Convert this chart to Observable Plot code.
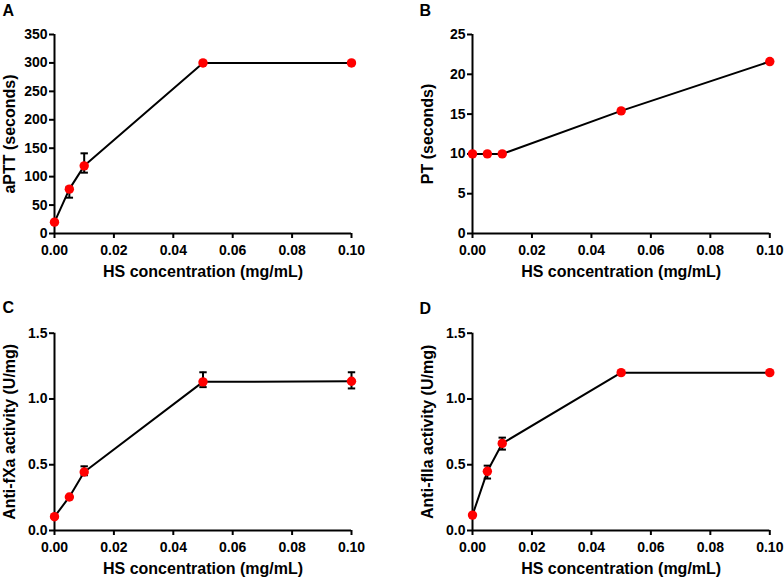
<!DOCTYPE html>
<html>
<head>
<meta charset="utf-8">
<script src="https://cdn.jsdelivr.net/npm/d3@7"></script>
<script src="https://cdn.jsdelivr.net/npm/@observablehq/plot@0.6"></script>
<style>
  html, body { margin: 0; padding: 0; background: #fff; }
  #wrap { position: relative; width: 784px; height: 579px; background: #fff; overflow: hidden; }
  .cell { position: absolute; }
</style>
</head>
<body>
<div id="wrap"></div>
<script>
// ---- data ----
const conc = [0, 0.005, 0.01, 0.05, 0.1];
const xTicks = [0, 0.02, 0.04, 0.06, 0.08, 0.1];

const apttMean = [20, 78, 119, 300, 300];
const apttLow  = [20, 63, 107, 300, 300];
const apttHigh = [20, 82, 141, 300, 300];
const apttTicks = [0, 50, 100, 150, 200, 250, 300, 350];

const ptMean = [10, 10, 10, 15.4, 21.6];
const ptTicks = [0, 5, 10, 15, 20, 25];

const fxaMean = [0.105, 0.255, 0.445, 1.13, 1.135];
const fxaLow  = [0.105, 0.255, 0.42, 1.09, 1.08];
const fxaHigh = [0.105, 0.255, 0.488, 1.203, 1.203];

const fiiaMean = [0.117, 0.45, 0.662, 1.2, 1.2];
const fiiaLow  = [0.117, 0.395, 0.615, 1.2, 1.2];
const fiiaHigh = [0.117, 0.493, 0.706, 1.2, 1.2];
const activityTicks = [0, 0.5, 1.0, 1.5];

const panelLetters = ["A", "B", "C", "D"];
const yTitles = ["aPTT (seconds)", "PT (seconds)", "Anti-fXa activity (U/mg)", "Anti-fIIa activity (U/mg)"];
const xTitle = "HS concentration (mg/mL)";

// ---- drawing ----
const font = "Arial, 'Liberation Sans', sans-serif";
const cap = {
  draw(context, size) {
    const w = Math.sqrt(size / Math.PI);
    context.moveTo(-w, 0);
    context.lineTo(w, 0);
  }
};

function panel(cfg) {
  const rows = conc.map((x, i) => ({
    x, y: cfg.mean[i],
    lo: cfg.low ? cfg.low[i] : cfg.mean[i],
    hi: cfg.high ? cfg.high[i] : cfg.mean[i]
  }));
  const errs = rows.filter(d => d.lo !== d.hi);
  return Plot.plot({
    width: 392, height: cfg.h,
    marginLeft: cfg.ml, marginRight: cfg.mr, marginTop: cfg.mt, marginBottom: cfg.mb,
    style: { fontFamily: font, fontSize: "14px", fontWeight: "bold", color: "black", background: "white", overflow: "visible" },
    x: { domain: [0, 0.1] },
    y: { domain: cfg.yDomain },
    marks: [
      Plot.axisX({ ticks: xTicks, tickFormat: d3.format(".2f"), tickSize: 5, tickPadding: 7, strokeWidth: 2, label: null, fontSize: 14 }),
      Plot.axisY({ ticks: cfg.yTicks, tickFormat: cfg.yFormat, tickSize: 5, tickPadding: 2, strokeWidth: 2, label: null, fontSize: 14 }),
      Plot.ruleX([0], { stroke: "black", strokeWidth: 2 }),
      Plot.ruleY([cfg.yDomain[0]], { stroke: "black", strokeWidth: 2 }),
      Plot.line(rows, { x: "x", y: "y", stroke: "black", strokeWidth: 2 }),
      Plot.ruleX(errs, { x: "x", y1: "lo", y2: "hi", stroke: "black", strokeWidth: 2 }),
      Plot.dot(errs, { x: "x", y: "lo", symbol: cap, r: 3.7, stroke: "black", fill: "none", strokeWidth: 2 }),
      Plot.dot(errs, { x: "x", y: "hi", symbol: cap, r: 3.7, stroke: "black", fill: "none", strokeWidth: 2 }),
      Plot.dot(rows, { x: "x", y: "y", r: 4.7, fill: "#ff0000", stroke: "none" }),
      Plot.text([cfg.ytitle], { text: d => d, frameAnchor: "left", textAnchor: "middle", lineAnchor: "middle", dx: -44.5, rotate: -90, fontSize: 16, fontWeight: "bold", fill: "black" }),
      Plot.text([xTitle], { text: d => d, frameAnchor: "bottom", textAnchor: "middle", lineAnchor: "middle", dy: 38, fontSize: 16, fontWeight: "bold", fill: "black" }),
      Plot.text([cfg.letter], { text: d => d, frameAnchor: "top-left", textAnchor: "start", lineAnchor: "middle", dx: cfg.letterX - cfg.ml, dy: cfg.letterY - cfg.mt, fontSize: 16, fontWeight: "bold", fill: "black" })
    ]
  });
}

const fmt1 = d3.format(".1f");
const fmt0 = d3.format("d");
const configs = [
  { left: 0,   top: 0,   h: 290, ml: 54, mr: 41,   mt: 34,   mb: 57, letterX: 2,  letterY: 10,
    mean: apttMean, low: apttLow, high: apttHigh, yDomain: [0, 350], yTicks: apttTicks, yFormat: fmt0 },
  { left: 392, top: 0,   h: 290, ml: 80, mr: 14.7, mt: 34,   mb: 57, letterX: 27, letterY: 10,
    mean: ptMean, low: null, high: null, yDomain: [0, 25], yTicks: ptTicks, yFormat: fmt0 },
  { left: 0,   top: 290, h: 289, ml: 54, mr: 41,   mt: 42.7, mb: 49, letterX: 2,  letterY: 17,
    mean: fxaMean, low: fxaLow, high: fxaHigh, yDomain: [0, 1.5], yTicks: activityTicks, yFormat: fmt1 },
  { left: 392, top: 290, h: 289, ml: 80, mr: 14.7, mt: 42.7, mb: 49, letterX: 27, letterY: 18,
    mean: fiiaMean, low: fiiaLow, high: fiiaHigh, yDomain: [0, 1.5], yTicks: activityTicks, yFormat: fmt1 }
];

const wrap = document.getElementById("wrap");
configs.forEach((c, i) => {
  c.letter = panelLetters[i];
  c.ytitle = yTitles[i];
  const div = document.createElement("div");
  div.className = "cell";
  div.style.left = c.left + "px";
  div.style.top = c.top + "px";
  div.appendChild(panel(c));
  wrap.appendChild(div);
});
</script>
</body>
</html>
